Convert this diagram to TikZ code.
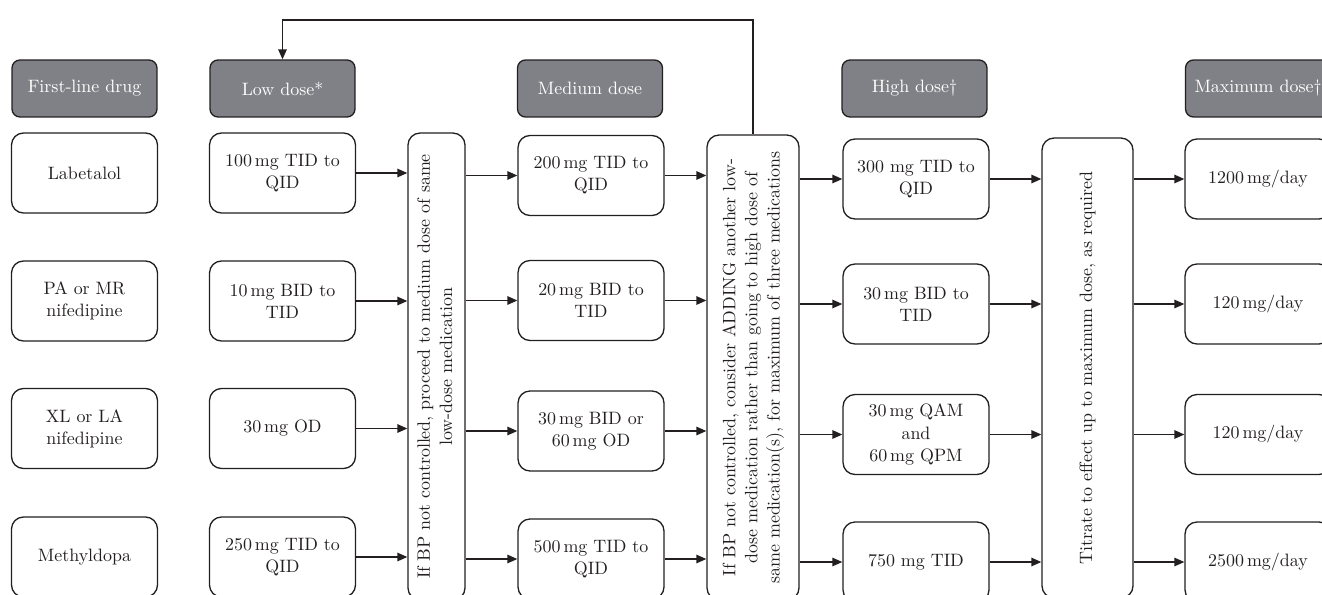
\documentclass[tikz,border=0pt]{standalone}
\usetikzlibrary{arrows.meta}
\definecolor{hdrgray}{RGB}{128,129,134}
\definecolor{ink}{RGB}{35,31,32}
\begin{document}
\begin{tikzpicture}[x=0.02cm,y=-0.02cm,line width=0.75pt,
  every node/.style={font=\fontsize{10.2}{12.6}\selectfont,text=ink},
  hdr/.style={draw=ink,fill=hdrgray,text=white,rounded corners=0.16cm,
    minimum width=2.9cm,minimum height=1.14cm,inner sep=0pt},
  dosebox/.style={draw=ink,rounded corners=0.24cm,align=center,
    minimum width=2.92cm,minimum height=1.6cm,inner sep=0pt},
  stepbar/.style={draw=ink,rounded corners=0.24cm,inner sep=0pt},
  link/.style={draw=ink,-{Triangle[length=0.2cm,width=0.17cm]}}]
 \useasboundingbox (0,0) rectangle (1322,595);
 \clip (0,0) rectangle (1322,595);
 % column headers
 \node[hdr] (hddrug) at (84.5,88.5) {First-line drug};
 \node[hdr] (hdlow) at (282.5,88.5) {Low dose*};
 \node[hdr] (hdmed) at (590,88.5) {Medium dose};
 \node[hdr] (hdhigh) at (914.5,88.5) {High dose\dag};
 \node[hdr] (hdmax) at (1258,88.5) {Maximum dose\dag};
 % decision bars
 \node[stepbar,minimum width=1.14cm,minimum height=9.34cm] (v1) at (436.5,366.5)
   {\rotatebox{90}{\begin{tabular}{@{}c@{}}If BP not controlled, proceed to medium dose of same\\
    low-dose medication\end{tabular}}};
 \node[stepbar,minimum width=1.84cm,minimum height=9.3cm] (v2) at (753,367.5)
   {\rotatebox{90}{\begin{tabular}{@{}c@{}}If BP not controlled, consider ADDING another low-\\
    dose medication rather than going to high dose of\\
    same medication(s), for maximum of three medications\end{tabular}}};
 \node[stepbar,minimum width=1.82cm,minimum height=9.2cm] (v3) at (1087.5,368)
   {\rotatebox{90}{Titrate to effect up to maximum dose, as required}};
 % drug rows
 \foreach \i/\y/\drug/\low in {1/173/Labetalol/{100\,mg TID to\\QID},
   2/301/{PA or MR\\nifedipine}/{10\,mg BID to\\TID},
   3/428.5/{XL or LA\\nifedipine}/{30\,mg OD},
   4/557/Methyldopa/{250\,mg TID to\\QID}}{
   \node[dosebox] (drug\i) at (84.5,\y) {\drug};
   \node[dosebox] (low\i) at (282.5,\y) {\low};
 }
 \foreach \i/\y/\med in {1/175.5/{200\,mg TID to\\QID},2/300.5/{20\,mg BID to\\TID},
   3/431/{30\,mg BID or\\60\,mg OD},4/559/{500\,mg TID to\\QID}}
   \node[dosebox] (med\i) at (591,\y) {\med};
 \foreach \i/\y/\high/\top in {1/179/{300 mg TID to\\QID}/{1200\,mg/day},
   2/304/{30\,mg BID to\\TID}/{120\,mg/day},
   3/434.5/{30\,mg QAM\\and\\60\,mg QPM}/{120\,mg/day},
   4/562/{750 mg TID}/{2500\,mg/day}}{
   \node[dosebox] (high\i) at (916,\y) {\high};
   \node[dosebox] (max\i) at (1258,\y) {\top};
 }
 % arrows
 \foreach \i in {1,...,4}{
   \draw[link] (low\i.east) -- (low\i.east -| v1.west);
   \draw[link] (v1.east |- med\i.west) -- (med\i.west);
   \draw[link] (med\i.east) -- (med\i.east -| v2.west);
   \draw[link] (v2.east |- high\i.west) -- (high\i.west);
   \draw[link] (high\i.east) -- (high\i.east -| v3.west);
   \draw[link] (v3.east |- max\i.west) -- (max\i.west);
 }
 \coordinate (loop) at (753,20);
 \draw[link] (v2.north) -- (loop) -| (hdlow.north);
\end{tikzpicture}
\end{document}
